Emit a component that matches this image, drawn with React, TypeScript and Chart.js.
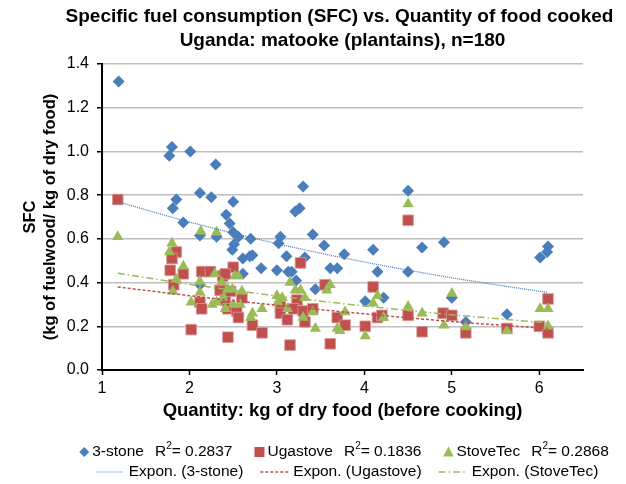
import React, { useEffect, useRef } from 'react';
import { Chart, registerables } from 'chart.js';

Chart.register(...registerables);

const TITLE_LINES = [
  'Specific fuel consumption (SFC) vs. Quantity of food cooked',
  'Uganda: matooke (plantains), n=180',
];
const X_TITLE = 'Quantity: kg of dry food (before cooking)';
const Y_TITLE = ['SFC', '(kg of fuelwood/ kg of dry food)'];

const X_TICKS = [1, 2, 3, 4, 5, 6];
const Y_TICKS = [0, 0.2, 0.4, 0.6, 0.8, 1.0, 1.2, 1.4];

const SERIES_NAMES = ['3-stone', 'Ugastove', 'StoveTec'];
const R2_VALUES = ['0.2837', '0.1836', '0.2868'];
const TREND_NAMES = ['Expon. (3-stone)', 'Expon. (Ugastove)', 'Expon. (StoveTec)'];

// 3-stone
const threeStoneX = [1.19, 1.80, 1.77, 2.01, 2.30, 1.85, 1.81, 2.12, 2.25, 2.50, 1.93, 2.42, 2.46, 2.50, 2.56, 2.70, 3.04, 3.02, 2.12, 2.31, 2.51, 2.49, 3.21, 3.26, 3.30, 4.50, 3.41, 3.54, 3.77, 4.10, 4.66, 4.91, 6.10, 6.09, 6.01, 3.32, 2.61, 2.69, 2.82, 2.61, 3.11, 3.00, 3.13, 3.17, 3.22, 3.44, 3.61, 3.69, 4.15, 4.50, 4.01, 4.22, 5.00, 5.16, 5.63, 2.72, 2.12];
const threeStoneY = [1.32, 1.02, 0.98, 1.00, 0.94, 0.78, 0.74, 0.81, 0.79, 0.77, 0.675, 0.71, 0.67, 0.63, 0.61, 0.60, 0.61, 0.58, 0.615, 0.61, 0.575, 0.55, 0.725, 0.74, 0.84, 0.82, 0.62, 0.57, 0.53, 0.55, 0.56, 0.585, 0.565, 0.54, 0.515, 0.515, 0.51, 0.52, 0.465, 0.44, 0.52, 0.456, 0.45, 0.45, 0.41, 0.37, 0.465, 0.465, 0.45, 0.45, 0.315, 0.33, 0.33, 0.22, 0.255, 0.525, 0.39];

// Ugastove
const ugastoveX = [1.18, 4.50, 1.85, 1.80, 1.78, 1.93, 1.82, 2.02, 2.14, 2.24, 2.38, 2.35, 2.12, 2.14, 2.44, 2.50, 2.41, 2.41, 2.44, 2.54, 2.56, 2.72, 2.83, 3.27, 3.04, 3.04, 3.12, 3.23, 3.19, 3.30, 3.41, 3.32, 3.55, 3.69, 3.78, 3.15, 3.61, 4.10, 4.01, 4.15, 4.20, 4.50, 4.66, 4.90, 5.00, 5.16, 5.63, 6.00, 6.10, 6.10, 2.47, 2.60];
const ugastoveY = [0.78, 0.685, 0.54, 0.51, 0.456, 0.44, 0.39, 0.185, 0.45, 0.45, 0.43, 0.365, 0.31, 0.28, 0.15, 0.47, 0.44, 0.32, 0.28, 0.27, 0.24, 0.205, 0.17, 0.49, 0.29, 0.26, 0.23, 0.32, 0.28, 0.27, 0.28, 0.22, 0.39, 0.24, 0.205, 0.114, 0.12, 0.38, 0.20, 0.24, 0.25, 0.25, 0.175, 0.26, 0.25, 0.17, 0.19, 0.20, 0.325, 0.17, 0.36, 0.33];

// StoveTec
const stoveTecX = [1.18, 1.80, 2.13, 2.31, 4.50, 1.77, 1.93, 1.85, 1.81, 2.02, 2.12, 2.12, 2.29, 2.37, 2.26, 2.31, 2.41, 2.44, 2.52, 2.56, 2.49, 2.60, 2.39, 2.50, 2.58, 2.83, 2.70, 2.72, 3.00, 3.06, 3.01, 3.15, 3.21, 3.27, 3.12, 3.30, 3.44, 3.32, 3.41, 3.61, 3.57, 3.69, 3.78, 4.01, 4.15, 4.10, 4.22, 4.50, 4.66, 3.72, 4.91, 5.00, 5.16, 5.63, 6.01, 6.10, 6.10];
const stoveTecY = [0.61, 0.58, 0.635, 0.63, 0.76, 0.54, 0.475, 0.415, 0.36, 0.31, 0.405, 0.355, 0.44, 0.40, 0.30, 0.31, 0.28, 0.37, 0.43, 0.43, 0.37, 0.36, 0.33, 0.30, 0.30, 0.28, 0.24, 0.26, 0.34, 0.33, 0.31, 0.40, 0.365, 0.365, 0.28, 0.24, 0.19, 0.33, 0.265, 0.39, 0.365, 0.19, 0.265, 0.155, 0.34, 0.305, 0.24, 0.29, 0.26, 0.18, 0.205, 0.35, 0.197, 0.18, 0.28, 0.28, 0.20];

// Trend lines
const trendX = [1.18, 2, 3, 4, 5, 6.1];
const trendThreeStoneY = [0.77, 0.677, 0.578, 0.494, 0.422, 0.354];
const trendUgastoveY = [0.38, 0.34, 0.296, 0.257, 0.222, 0.19];
const trendStoveTecY = [0.443, 0.392, 0.339, 0.293, 0.253, 0.215];

const BLUE = '#4A7EBB';
const RED = '#C0504D';
const GREEN = '#9BBB59';
const FONT = '"Liberation Sans", Arial, Helvetica, sans-serif';

const pts = (xs: number[], ys: number[]) => xs.map((x, i) => ({ x, y: ys[i] }));

function drawMarker(ctx: CanvasRenderingContext2D, kind: number, x: number, y: number) {
  ctx.beginPath();
  if (kind === 0) {
    ctx.fillStyle = BLUE;
    const r = 5;
    ctx.moveTo(x, y - r); ctx.lineTo(x + r, y); ctx.lineTo(x, y + r); ctx.lineTo(x - r, y);
  } else if (kind === 1) {
    ctx.fillStyle = RED;
    ctx.rect(x - 5, y - 5, 10, 10);
  } else {
    ctx.fillStyle = GREEN;
    ctx.moveTo(x, y - 5.5); ctx.lineTo(x + 5.3, y + 4.5); ctx.lineTo(x - 5.3, y + 4.5);
  }
  ctx.closePath();
  ctx.fill();
}

function drawLineSample(ctx: CanvasRenderingContext2D, kind: number, x: number, y: number, w: number) {
  ctx.save();
  ctx.beginPath();
  if (kind === 0) { ctx.strokeStyle = BLUE; ctx.setLineDash([1, 1]); ctx.lineWidth = 1.2; }
  else if (kind === 1) { ctx.strokeStyle = RED; ctx.setLineDash([3, 2]); ctx.lineWidth = 1.5; }
  else { ctx.strokeStyle = GREEN; ctx.setLineDash([7, 3, 1.5, 3]); ctx.lineWidth = 1.5; }
  ctx.moveTo(x, y); ctx.lineTo(x + w, y);
  ctx.stroke();
  ctx.restore();
}

const textPlugin = {
  id: 'customText',
  afterDraw(chart: any) {
    const ctx: CanvasRenderingContext2D = chart.ctx;
    const ca = chart.chartArea;
    const cx = (ca.left + ca.right) / 2;
    ctx.save();
    ctx.fillStyle = '#000';
    ctx.textAlign = 'center';
    ctx.textBaseline = 'middle';
    ctx.font = `bold 19px ${FONT}`;
    ctx.fillText(TITLE_LINES[0], cx - 3, 17);
    ctx.fillText(TITLE_LINES[1], cx, 41);
    ctx.font = `bold 18.5px ${FONT}`;
    ctx.fillText(X_TITLE, cx, 411);

    ctx.save();
    ctx.translate(30, (ca.top + ca.bottom) / 2);
    ctx.rotate(-Math.PI / 2);
    ctx.font = `bold 16.5px ${FONT}`;
    ctx.fillText(Y_TITLE[0], 0, 0);
    ctx.fillText(Y_TITLE[1], 0, 20);
    ctx.restore();

    // Legend row 1
    ctx.textAlign = 'left';
    const big = `15.5px ${FONT}`;
    const small = `10px ${FONT}`;
    const row1Y = 452;
    const items1 = [0, 1, 2].map((i) => {
      ctx.font = big;
      const nameW = ctx.measureText(SERIES_NAMES[i]).width;
      const rW = ctx.measureText('R').width;
      ctx.font = small;
      const sW = ctx.measureText('2').width;
      ctx.font = big;
      const valW = ctx.measureText('= ' + R2_VALUES[i]).width;
      return { nameW, rW, sW, valW, total: 13 + nameW + 11 + rW + sW + valW };
    });
    const gap1 = 22;
    const total1 = items1.reduce((a, b) => a + b.total, 0) + gap1 * 2;
    let x = 344 - total1 / 2;
    items1.forEach((it, i) => {
      drawMarker(ctx, i, x + 5, row1Y);
      ctx.fillStyle = '#000';
      ctx.font = big;
      let tx = x + 13;
      ctx.fillText(SERIES_NAMES[i], tx, row1Y);
      tx += it.nameW + 11;
      ctx.fillText('R', tx, row1Y);
      tx += it.rW;
      ctx.font = small;
      ctx.fillText('2', tx, row1Y - 6);
      tx += it.sW;
      ctx.font = big;
      ctx.fillText('= ' + R2_VALUES[i], tx, row1Y);
      x += it.total + gap1;
    });

    // Legend row 2
    const row2Y = 472;
    ctx.font = big;
    const items2 = TREND_NAMES.map((n) => ({ w: ctx.measureText(n).width }));
    const sampleW = 28;
    const gap2 = 17;
    const total2 = items2.reduce((a, b) => a + sampleW + 5 + b.w, 0) + gap2 * 2;
    x = 347 - total2 / 2;
    items2.forEach((it, i) => {
      drawLineSample(ctx, i, x, row2Y, sampleW);
      ctx.fillStyle = '#000';
      ctx.font = big;
      ctx.fillText(TREND_NAMES[i], x + sampleW + 5, row2Y);
      x += sampleW + 5 + it.w + gap2;
    });
    ctx.restore();
  },
};

export default function App() {
  const ref = useRef<HTMLCanvasElement | null>(null);
  useEffect(() => {
    if (!ref.current) return;
    const chart = new Chart(ref.current, {
      type: 'scatter',
      data: {
        datasets: [
          {
            label: 'Expon. (3-stone)', type: 'line', data: pts(trendX, trendThreeStoneY) as any,
            borderColor: BLUE, borderWidth: 1.3, borderDash: [1, 1], pointRadius: 0, showLine: true,
            cubicInterpolationMode: 'monotone', fill: false, order: -3,
          } as any,
          {
            label: 'Expon. (Ugastove)', type: 'line', data: pts(trendX, trendUgastoveY) as any,
            borderColor: RED, borderWidth: 1.5, borderDash: [3, 2], pointRadius: 0, showLine: true,
            cubicInterpolationMode: 'monotone', fill: false, order: -2,
          } as any,
          {
            label: 'Expon. (StoveTec)', type: 'line', data: pts(trendX, trendStoveTecY) as any,
            borderColor: GREEN, borderWidth: 1.5, borderDash: [7, 3, 1.5, 3], pointRadius: 0, showLine: true,
            cubicInterpolationMode: 'monotone', fill: false, order: -1,
          } as any,
          {
            label: 'StoveTec', data: pts(stoveTecX, stoveTecY), pointStyle: 'triangle', pointRadius: 6.5,
            backgroundColor: GREEN, borderColor: GREEN, borderWidth: 0, order: 0,
          },
          {
            label: 'Ugastove', data: pts(ugastoveX, ugastoveY), pointStyle: 'rect', pointRadius: 7.5,
            backgroundColor: RED, borderColor: 'rgba(220,150,150,0.8)', borderWidth: 1, order: 1,
          },
          {
            label: '3-stone', data: pts(threeStoneX, threeStoneY), pointStyle: 'rectRot', pointRadius: 6,
            backgroundColor: BLUE, borderColor: BLUE, borderWidth: 0, order: 2,
          },
        ],
      },
      options: {
        responsive: false,
        animation: false,
        events: [],
        layout: { padding: { left: 0, right: 43, top: 64, bottom: 84 } },
        plugins: { legend: { display: false }, title: { display: false }, tooltip: { enabled: false } },
        scales: {
          x: {
            type: 'linear', min: 1, max: 6.5,
            afterBuildTicks: (s: any) => { s.ticks = X_TICKS.map((v) => ({ value: v })); },
            afterFit: (s: any) => { s.height = 30; },
            grid: { drawOnChartArea: false, drawTicks: true, tickLength: 5, tickColor: '#000', tickWidth: 1.5 },
            border: { color: '#000', width: 2 },
            ticks: { color: '#000', font: { size: 16, family: FONT }, padding: 4, maxRotation: 0, callback: (v: any) => String(v) },
          },
          y: {
            type: 'linear', min: 0, max: 1.4,
            afterBuildTicks: (s: any) => { s.ticks = Y_TICKS.map((v) => ({ value: v })); },
            afterFit: (s: any) => { s.width = 102; },
            grid: { color: '#BFBFBF', lineWidth: 1.5, drawTicks: true, tickLength: 5, tickColor: '#000', tickWidth: 1.5 },
            border: { color: '#000', width: 2 },
            ticks: { color: '#000', font: { size: 16, family: FONT }, padding: 8, callback: (v: any) => Number(v).toFixed(1) },
          },
        },
      },
      plugins: [textPlugin],
    });
    return () => chart.destroy();
  }, []);
  return (
    <div style={{ position: 'fixed', left: 0, top: 0, width: 626, height: 484, background: '#fff' }}>
      <canvas ref={ref} width={626} height={484} />
    </div>
  );
}
